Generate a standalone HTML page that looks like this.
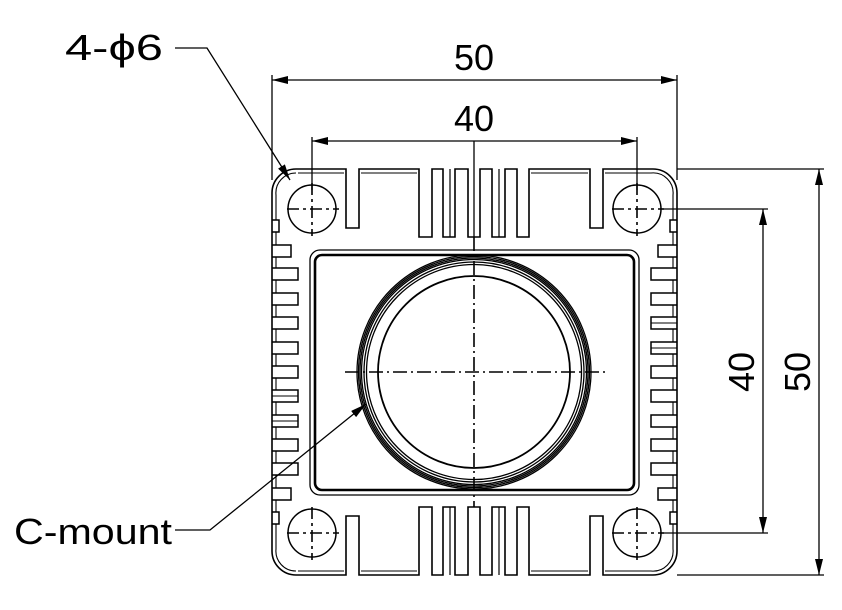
<!DOCTYPE html>
<html><head><meta charset="utf-8"><style>
html,body{margin:0;padding:0;background:#fff;width:842px;height:610px;overflow:hidden}
svg{display:block}
text{font-family:"Liberation Sans",sans-serif;fill:#000}
</style></head><body>
<svg width="842" height="610" viewBox="0 0 842 610" xmlns="http://www.w3.org/2000/svg">
<defs>
<marker id="a" viewBox="0 0 16 8" refX="16" refY="4" markerWidth="16" markerHeight="8" markerUnits="userSpaceOnUse" orient="auto-start-reverse"><path d="M0,0 L16,4 L0,8 z" fill="#000"/></marker>
</defs>
<g fill="none" stroke="#000" stroke-width="1.6">
<path d="
M296,169 H346 V228 H359 V169 H419 V237 H432 V169 H443 V237 H455 V169 H468 V237 H480 V169 H492 V237 H505 V169 H517 V237 H529 V169 H590 V228 H603 V169 H653
A24,24 0 0 1 677,193 V551 A24,24 0 0 1 653,575
H603 V516 H590 V575 H529 V507 H517 V575 H505 V507 H492 V575 H480 V507 H468 V575 H455 V507 H443 V575 H432 V507 H419 V575 H359 V516 H346 V575 H296
A24,24 0 0 1 272,551 V193 A24,24 0 0 1 296,169 Z"/>
<line x1="450" y1="169" x2="450" y2="237" stroke-width="1.2"/>
<line x1="499" y1="169" x2="499" y2="237" stroke-width="1.2"/>
<line x1="450" y1="507" x2="450" y2="575" stroke-width="1.2"/>
<line x1="499" y1="507" x2="499" y2="575" stroke-width="1.2"/>
<path d="M298,173 H344 M361,173 H417 M531,173 H588 M605,173 H651 A20,20 0 0 1 673,195 M298,571 H344 M361,571 H417 M531,571 H588 M605,571 H651 A20,20 0 0 0 673,549 M296,173 A20,20 0 0 0 276,195 M296,571 A20,20 0 0 1 276,549" stroke-width="1.1"/>
<!-- side notches -->
<path stroke-width="1.5" d="
M677,220 H670 V232 H677 M677,245 H658 V257 H677
M677,268 H651 V280 H677 M677,293 H651 V305 H677 M677,317 H651 V329 H677 M677,342 H651 V354 H677 M677,366 H651 V378 H677 M677,390 H651 V402 H677 M677,415 H651 V427 H677 M677,439 H651 V451 H677 M677,463 H651 V475 H677
M677,488 H658 V500 H677 M677,512 H670 V524 H677
M272,220 H279 V232 H272 M272,245 H291 V257 H272
M272,268 H298 V280 H272 M272,293 H298 V305 H272 M272,317 H298 V329 H272 M272,342 H298 V354 H272 M272,366 H298 V378 H272 M272,390 H298 V402 H272 M272,415 H298 V427 H272 M272,439 H298 V451 H272 M272,463 H298 V475 H272
M272,488 H291 V500 H272 M272,512 H279 V524 H272"/>
<path stroke-width="1.1" d="
M673,195 V220 M673,232 V245 M673,257 V268 M673,280 V293 M673,305 V317 M673,329 V342 M673,354 V366 M673,378 V390 M673,402 V415 M673,427 V439 M673,451 V463 M673,475 V488 M673,500 V512 M673,524 V549
M276,195 V220 M276,232 V245 M276,257 V268 M276,280 V293 M276,305 V317 M276,329 V342 M276,354 V366 M276,378 V390 M276,402 V415 M276,427 V439 M276,451 V463 M276,475 V488 M276,500 V512 M276,524 V549"/>
<path stroke-width="1" d="M651,323 H677 M651,348 H677 M272,396 H298 M272,421 H298"/>
<!-- inner rectangle -->
<rect x="310" y="250" width="329" height="245" rx="10" stroke-width="1.3"/>
<rect x="315" y="255" width="319" height="235" rx="7" stroke-width="2.6"/>
<!-- lens -->
<circle cx="474" cy="372" r="117" stroke-width="1.3"/>
<circle cx="474" cy="372" r="115.5" stroke-width="1.3"/>
<circle cx="474" cy="372" r="114" stroke-width="1.3"/>
<circle cx="474" cy="372" r="112.5" stroke-width="1.3"/>
<circle cx="474" cy="372" r="110" stroke-width="1.3"/>
<circle cx="474" cy="372" r="107.5" stroke-width="1.3"/>
<circle cx="474" cy="372" r="96" stroke-width="1.8"/>
<!-- holes -->
<circle cx="312" cy="209" r="24" stroke-width="1.5"/>
<circle cx="637" cy="209" r="24" stroke-width="1.5"/>
<circle cx="312" cy="533" r="24" stroke-width="1.5"/>
<circle cx="637" cy="533" r="24" stroke-width="1.5"/>
</g>
<g stroke="#000" stroke-width="1.6" fill="none" stroke-dasharray="14,4,2,4">
<line x1="345" y1="372" x2="606" y2="372"/>
<line x1="474" y1="237" x2="474" y2="507"/>
</g>
<g stroke="#000" stroke-width="1.6" stroke-dasharray="12,4,3,4">
<line x1="287" y1="209" x2="339" y2="209"/><line x1="312" y1="183" x2="312" y2="236"/>
<line x1="612" y1="209" x2="664" y2="209"/><line x1="637" y1="183" x2="637" y2="236"/>
<line x1="287" y1="533" x2="339" y2="533"/><line x1="312" y1="507" x2="312" y2="560"/>
<line x1="612" y1="533" x2="664" y2="533"/><line x1="637" y1="507" x2="637" y2="560"/>
</g>
<g stroke="#000" stroke-width="1.3" fill="none">
<line x1="272" y1="75" x2="272" y2="180"/>
<line x1="677" y1="75" x2="677" y2="180"/>
<line x1="312" y1="137" x2="312" y2="190"/>
<line x1="637" y1="137" x2="637" y2="190"/>
<line x1="272" y1="80" x2="677" y2="80" marker-start="url(#a)" marker-end="url(#a)"/>
<line x1="312" y1="141" x2="637" y2="141" marker-start="url(#a)" marker-end="url(#a)"/>
<line x1="474" y1="141" x2="474" y2="237"/>
<line x1="677" y1="169" x2="824" y2="169"/>
<line x1="677" y1="575" x2="824" y2="575"/>
<line x1="660" y1="209" x2="768" y2="209"/>
<line x1="660" y1="533" x2="768" y2="533"/>
<line x1="819" y1="169" x2="819" y2="575" marker-start="url(#a)" marker-end="url(#a)"/>
<line x1="763" y1="209" x2="763" y2="533" marker-start="url(#a)" marker-end="url(#a)"/>
<polyline points="175,48 207,48 290,180" marker-end="url(#a)"/>
<polyline points="175,530 210,530 366,404" marker-end="url(#a)"/>
</g>
<text x="474" y="70" font-size="36" text-anchor="middle">50</text>
<text x="474" y="131" font-size="36" text-anchor="middle">40</text>
<text transform="translate(754,372) rotate(-90)" font-size="36" text-anchor="middle">40</text>
<text transform="translate(810,372) rotate(-90)" font-size="36" text-anchor="middle">50</text>
<text x="65" y="60" font-size="36" textLength="98" lengthAdjust="spacingAndGlyphs">4-ϕ6</text>
<text x="14" y="544" font-size="36" textLength="158" lengthAdjust="spacingAndGlyphs">C-mount</text>
</svg>
</body></html>
